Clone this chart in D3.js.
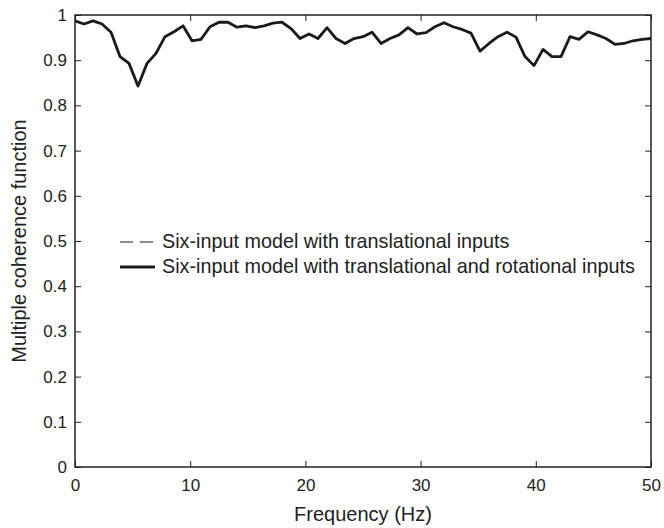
<!DOCTYPE html>
<html>
<head>
<script src="https://d3js.org/d3.v7.min.js"></script>
<style>
  body { margin: 0; background: #fff; }
  text { font-family: "Liberation Sans", Arial, sans-serif; fill: #222; }
</style>
</head>
<body>
<script>
// coherence values, one every 50/64 Hz from 0 to 50 Hz
var coherence = [
  0.987, 0.980, 0.987, 0.980, 0.962, 0.908, 0.893, 0.843, 0.893, 0.915,
  0.952, 0.963, 0.976, 0.943, 0.946, 0.974, 0.984, 0.984, 0.973, 0.976,
  0.972, 0.976, 0.982, 0.984, 0.970, 0.948, 0.958, 0.948, 0.972, 0.948,
  0.937, 0.948, 0.952, 0.962, 0.937, 0.948, 0.956, 0.972, 0.958, 0.961,
  0.974, 0.983, 0.974, 0.968, 0.960, 0.920, 0.937, 0.952, 0.962, 0.951,
  0.908, 0.888, 0.924, 0.908, 0.908, 0.952, 0.946, 0.963, 0.956, 0.948,
  0.935, 0.937, 0.943, 0.946, 0.948
];
var freqStep = 50 / 64;
var xTicks = [0, 10, 20, 30, 40, 50];
var yTicks = [0, 0.1, 0.2, 0.3, 0.4, 0.5, 0.6, 0.7, 0.8, 0.9, 1];
var legendLabels = [
  "Six-input model with translational inputs",
  "Six-input model with translational and rotational inputs"
];

var W = 664, H = 528;
var m = {left: 75, right: 13, top: 15, bottom: 61};

var svg = d3.select("body").append("svg")
  .attr("width", W)
  .attr("height", H);

var x = d3.scaleLinear().domain([0, 50]).range([m.left, W - m.right]);
var y = d3.scaleLinear().domain([0, 1]).range([H - m.bottom, m.top]);

var tickLen = 6;

function styleAxis(g) {
  g.select(".domain").remove();
  g.selectAll("line").attr("stroke", "#222").attr("stroke-width", 1);
  g.selectAll("text").style("font-size", "17px").attr("fill", "#222");
}

// bottom axis, ticks pointing in
svg.append("g")
  .attr("transform", "translate(0," + y(0) + ")")
  .call(d3.axisBottom(x).tickValues(xTicks).tickSizeInner(-tickLen).tickSizeOuter(0).tickPadding(12).tickFormat(d3.format("d")))
  .call(styleAxis);

// top ticks
svg.append("g")
  .attr("transform", "translate(0," + y(1) + ")")
  .call(d3.axisTop(x).tickValues(xTicks).tickSizeInner(-tickLen).tickSizeOuter(0).tickFormat(""))
  .call(styleAxis);

// left axis
svg.append("g")
  .attr("transform", "translate(" + x(0) + ",0)")
  .call(d3.axisLeft(y).tickValues(yTicks).tickSizeInner(-tickLen).tickSizeOuter(0).tickPadding(8).tickFormat(d3.format("~g")))
  .call(styleAxis);

// right ticks
svg.append("g")
  .attr("transform", "translate(" + x(50) + ",0)")
  .call(d3.axisRight(y).tickValues(yTicks).tickSizeInner(-tickLen).tickSizeOuter(0).tickFormat(""))
  .call(styleAxis);

// box
svg.append("rect")
  .attr("x", x(0)).attr("y", y(1))
  .attr("width", x(50) - x(0)).attr("height", y(0) - y(1))
  .attr("fill", "none")
  .attr("stroke", "#222")
  .attr("stroke-width", 1.5);

// coherence line
var line = d3.line()
  .x(function(d, i) { return x(i * freqStep); })
  .y(function(d) { return y(d); });

svg.append("path")
  .datum(coherence)
  .attr("d", line)
  .attr("fill", "none")
  .attr("stroke", "#1a1a1a")
  .attr("stroke-width", 2.8)
  .attr("stroke-linejoin", "round");

// legend
var leg = svg.append("g").attr("transform", "translate(120,242)");
legendLabels.forEach(function(lab, i) {
  var row = leg.append("g").attr("transform", "translate(0," + (i * 25) + ")");
  row.append("line")
    .attr("x1", 0).attr("x2", 35).attr("y1", 0).attr("y2", 0)
    .attr("stroke", "#1a1a1a")
    .attr("stroke-width", i === 0 ? 1.2 : 2.8)
    .attr("stroke-dasharray", i === 0 ? "13,7" : null);
  row.append("text")
    .attr("x", 42).attr("y", 6)
    .style("font-size", "19.8px")
    .text(lab);
});

// axis titles
svg.append("text")
  .attr("x", (x(0) + x(50)) / 2)
  .attr("y", 521)
  .attr("text-anchor", "middle")
  .style("font-size", "20px")
  .text("Frequency (Hz)");

svg.append("text")
  .attr("transform", "translate(26," + ((y(0) + y(1)) / 2) + ") rotate(-90)")
  .attr("text-anchor", "middle")
  .style("font-size", "20px")
  .text("Multiple coherence function");
</script>
</body>
</html>
